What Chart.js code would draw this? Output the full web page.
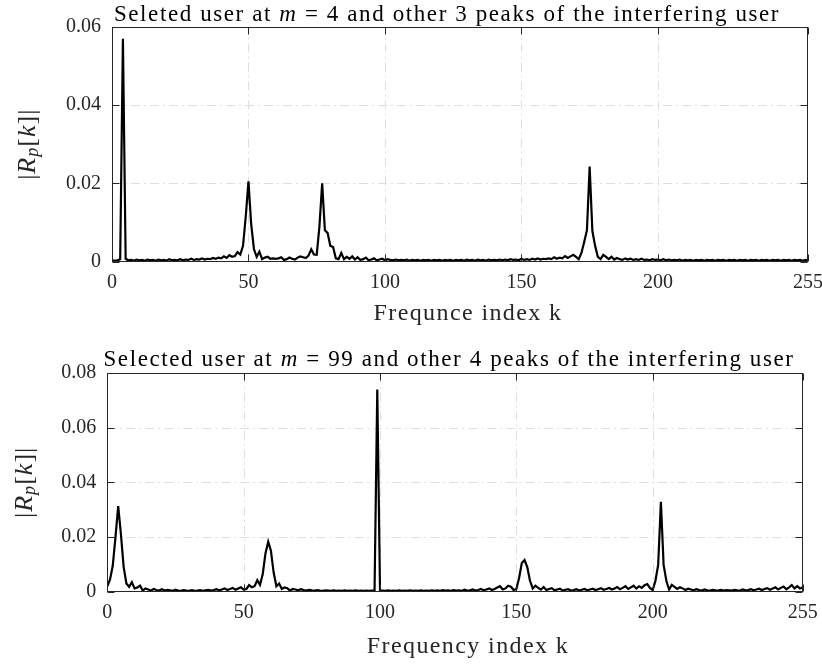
<!DOCTYPE html>
<html>
<head>
<meta charset="utf-8">
<script src="https://cdn.jsdelivr.net/npm/chart.js@4.4.1/dist/chart.umd.min.js"></script>
<style>
  html, body { margin: 0; padding: 0; background: #fff; }
  #wrap { position: relative; width: 822px; height: 666px; }
  canvas { position: absolute; left: 0; }
</style>
</head>
<body>
<div id="wrap">
  <canvas id="topChart" width="822" height="333" style="top:0;width:822px;height:333px"></canvas>
  <canvas id="bottomChart" width="822" height="333" style="top:333px;width:822px;height:333px"></canvas>
</div>
<script>
// |R_p[k]| for k = 0..255
const topVals = [
  0.0002, 0.0002, 0.0003, 0.0006, 0.0570, 0.0007, 0.0003, 0.0004, 0.0002, 0.0005, 0.0003, 0.0004, 0.0002, 0.0005, 0.0003, 0.0004,
  0.0002, 0.0005, 0.0003, 0.0004, 0.0002, 0.0006, 0.0003, 0.0004, 0.0003, 0.0006, 0.0003, 0.0005, 0.0004, 0.0007, 0.0004, 0.0006,
  0.0005, 0.0008, 0.0005, 0.0007, 0.0006, 0.0009, 0.0007, 0.0010, 0.0008, 0.0013, 0.0009, 0.0016, 0.0012, 0.0014, 0.0024, 0.0018,
  0.0040, 0.0115, 0.0205, 0.0095, 0.0032, 0.0012, 0.0025, 0.0006, 0.0010, 0.0012, 0.0007, 0.0008, 0.0007, 0.0008, 0.0011, 0.0004,
  0.0006, 0.0010, 0.0007, 0.0005, 0.0010, 0.0013, 0.0011, 0.0009, 0.0015, 0.0031, 0.0018, 0.0017, 0.0090, 0.0200, 0.0080, 0.0073,
  0.0040, 0.0037, 0.0008, 0.0006, 0.0022, 0.0006, 0.0012, 0.0007, 0.0013, 0.0005, 0.0011, 0.0004, 0.0006, 0.0010, 0.0003, 0.0005,
  0.0008, 0.0003, 0.0005, 0.0007, 0.0003, 0.0006, 0.0004, 0.0003, 0.0005, 0.0003, 0.0004, 0.0003, 0.0005, 0.0002, 0.0004, 0.0003,
  0.0004, 0.0002, 0.0004, 0.0003, 0.0004, 0.0002, 0.0004, 0.0003, 0.0004, 0.0002, 0.0004, 0.0003, 0.0004, 0.0002, 0.0004, 0.0003,
  0.0004, 0.0002, 0.0005, 0.0003, 0.0004, 0.0002, 0.0005, 0.0003, 0.0004, 0.0002, 0.0005, 0.0003, 0.0004, 0.0003, 0.0005, 0.0003,
  0.0005, 0.0003, 0.0006, 0.0004, 0.0005, 0.0003, 0.0007, 0.0004, 0.0006, 0.0004, 0.0007, 0.0005, 0.0008, 0.0005, 0.0007, 0.0006,
  0.0008, 0.0006, 0.0011, 0.0007, 0.0010, 0.0008, 0.0014, 0.0009, 0.0013, 0.0017, 0.0012, 0.0006, 0.0022, 0.0050, 0.0080, 0.0243,
  0.0078, 0.0040, 0.0012, 0.0006, 0.0017, 0.0012, 0.0006, 0.0012, 0.0005, 0.0009, 0.0006, 0.0004, 0.0008, 0.0005, 0.0007, 0.0004,
  0.0006, 0.0004, 0.0007, 0.0004, 0.0005, 0.0003, 0.0006, 0.0004, 0.0005, 0.0003, 0.0006, 0.0003, 0.0005, 0.0003, 0.0004, 0.0003,
  0.0005, 0.0002, 0.0004, 0.0003, 0.0004, 0.0002, 0.0004, 0.0003, 0.0004, 0.0002, 0.0004, 0.0003, 0.0004, 0.0002, 0.0004, 0.0003,
  0.0004, 0.0002, 0.0004, 0.0003, 0.0004, 0.0002, 0.0004, 0.0003, 0.0004, 0.0002, 0.0004, 0.0003, 0.0004, 0.0002, 0.0004, 0.0003,
  0.0004, 0.0002, 0.0004, 0.0003, 0.0004, 0.0002, 0.0004, 0.0003, 0.0004, 0.0002, 0.0004, 0.0003, 0.0004, 0.0002, 0.0004, 0.0003
];

const bottomVals = [
  0.0020, 0.0045, 0.0095, 0.0200, 0.0313, 0.0210, 0.0090, 0.0030, 0.0018, 0.0035, 0.0012, 0.0015, 0.0022, 0.0004, 0.0012, 0.0008,
  0.0004, 0.0010, 0.0006, 0.0004, 0.0009, 0.0004, 0.0007, 0.0005, 0.0003, 0.0007, 0.0004, 0.0003, 0.0006, 0.0004, 0.0003, 0.0006,
  0.0003, 0.0004, 0.0006, 0.0003, 0.0005, 0.0007, 0.0004, 0.0006, 0.0009, 0.0005, 0.0008, 0.0012, 0.0006, 0.0010, 0.0014, 0.0007,
  0.0012, 0.0016, 0.0008, 0.0010, 0.0024, 0.0016, 0.0020, 0.0042, 0.0025, 0.0065, 0.0140, 0.0183, 0.0150, 0.0070, 0.0020, 0.0030,
  0.0010, 0.0016, 0.0013, 0.0004, 0.0010, 0.0008, 0.0005, 0.0009, 0.0006, 0.0004, 0.0007, 0.0005, 0.0004, 0.0006, 0.0004, 0.0003,
  0.0005, 0.0004, 0.0003, 0.0005, 0.0003, 0.0004, 0.0003, 0.0005, 0.0003, 0.0004, 0.0003, 0.0005, 0.0003, 0.0004, 0.0003, 0.0004,
  0.0003, 0.0004, 0.0003, 0.0740, 0.0005, 0.0004, 0.0003, 0.0005, 0.0003, 0.0004, 0.0003, 0.0005, 0.0003, 0.0004, 0.0003, 0.0005,
  0.0003, 0.0004, 0.0003, 0.0005, 0.0003, 0.0004, 0.0003, 0.0005, 0.0003, 0.0005, 0.0003, 0.0006, 0.0004, 0.0005, 0.0003, 0.0006,
  0.0004, 0.0005, 0.0003, 0.0007, 0.0004, 0.0005, 0.0008, 0.0004, 0.0006, 0.0010, 0.0005, 0.0008, 0.0012, 0.0006, 0.0010, 0.0015,
  0.0020, 0.0008, 0.0012, 0.0022, 0.0018, 0.0006, 0.0010, 0.0050, 0.0105, 0.0116, 0.0090, 0.0040, 0.0012, 0.0022, 0.0014, 0.0008,
  0.0017, 0.0006, 0.0010, 0.0013, 0.0005, 0.0008, 0.0011, 0.0004, 0.0007, 0.0009, 0.0004, 0.0006, 0.0009, 0.0004, 0.0007, 0.0010,
  0.0005, 0.0008, 0.0011, 0.0006, 0.0009, 0.0013, 0.0007, 0.0010, 0.0014, 0.0008, 0.0012, 0.0017, 0.0009, 0.0014, 0.0020, 0.0010,
  0.0016, 0.0022, 0.0012, 0.0020, 0.0014, 0.0024, 0.0028, 0.0014, 0.0006, 0.0040, 0.0098, 0.0329, 0.0098, 0.0040, 0.0008, 0.0025,
  0.0018, 0.0010, 0.0016, 0.0012, 0.0006, 0.0011, 0.0008, 0.0005, 0.0009, 0.0006, 0.0004, 0.0008, 0.0005, 0.0004, 0.0007, 0.0005,
  0.0004, 0.0007, 0.0004, 0.0006, 0.0005, 0.0004, 0.0007, 0.0005, 0.0004, 0.0008, 0.0005, 0.0006, 0.0009, 0.0005, 0.0008, 0.0011,
  0.0006, 0.0010, 0.0013, 0.0007, 0.0012, 0.0016, 0.0008, 0.0014, 0.0019, 0.0009, 0.0016, 0.0024, 0.0012, 0.0020, 0.0012, 0.0016
];

const kIndex = topVals.map((_, i) => i);

const xTicks = [0, 50, 100, 150, 200, 255];
const yTicksTop = [0, 0.02, 0.04, 0.06];
const yTicksBottom = [0, 0.02, 0.04, 0.06, 0.08];

const topTitle = [['Seleted user at ', ''], ['m', 'italic '], [' = 4 and other 3 peaks of the interfering user', '']];
const bottomTitle = [['Selected user at ', ''], ['m', 'italic '], [' = 99 and other 4 peaks of the interfering user', '']];
const topXLabel = 'Frequnce index k';
const bottomXLabel = 'Frequency index k';

const SERIF = '"Liberation Serif", "DejaVu Serif", serif';
const INK = '#262626';

// draws a run of [text, style] pieces starting at x
function drawRuns(ctx, runs, x, y, size) {
  runs.forEach(([txt, style, dy = 0, scale = 1]) => {
    ctx.font = style + (size * scale) + 'px ' + SERIF;
    ctx.fillText(txt, x, y + dy);
    x += ctx.measureText(txt).width;
  });
}
function runsWidth(ctx, runs, size) {
  let w = 0;
  runs.forEach(([txt, style, dy = 0, scale = 1]) => {
    ctx.font = style + (size * scale) + 'px ' + SERIF;
    w += ctx.measureText(txt).width;
  });
  return w;
}

const framePlugin = {
  id: 'frame',
  beforeDatasetsDraw(chart) {
    const { ctx, chartArea: a, scales: { x, y } } = chart;
    ctx.save();
    ctx.strokeStyle = '#dedede';
    ctx.lineWidth = 1;
    ctx.setLineDash([9, 4, 2, 4]);
    x.ticks.forEach(t => {
      if (t.value <= x.min || t.value >= x.max) return;
      const px = Math.round(x.getPixelForValue(t.value)) + 0.5;
      ctx.beginPath(); ctx.moveTo(px, a.bottom); ctx.lineTo(px, a.top); ctx.stroke();
    });
    y.ticks.forEach(t => {
      if (t.value <= y.min || t.value >= y.max) return;
      const py = Math.round(y.getPixelForValue(t.value)) + 0.5;
      ctx.beginPath(); ctx.moveTo(a.left, py); ctx.lineTo(a.right, py); ctx.stroke();
    });
    ctx.restore();
  },
  afterDatasetsDraw(chart, args, opts) {
    const { ctx, chartArea: a, scales: { x, y } } = chart;
    ctx.save();
    ctx.strokeStyle = INK;
    ctx.lineWidth = 1;
    ctx.setLineDash([]);
    const L = Math.round(a.left) + 0.5, R = Math.round(a.right) - 0.5;
    const T = Math.round(a.top) + 0.5, B = Math.round(a.bottom) - 0.5;
    ctx.strokeRect(L, T, R - L, B - T);
    const tl = 7;
    ctx.beginPath();
    x.ticks.forEach(t => {
      const px = Math.round(x.getPixelForValue(t.value)) + 0.5;
      ctx.moveTo(px, B); ctx.lineTo(px, B - tl);
      ctx.moveTo(px, T); ctx.lineTo(px, T + tl);
    });
    y.ticks.forEach(t => {
      const py = Math.round(y.getPixelForValue(t.value)) + 0.5;
      ctx.moveTo(L, py); ctx.lineTo(L + tl, py);
      ctx.moveTo(R, py); ctx.lineTo(R - tl, py);
    });
    ctx.stroke();

    // title
    ctx.fillStyle = '#000';
    ctx.textBaseline = 'alphabetic';
    ctx.textAlign = 'left';
    ctx.letterSpacing = opts.titleSpacing + 'px';
    const tw = runsWidth(ctx, opts.title, opts.titleSize);
    drawRuns(ctx, opts.title, opts.titleX - tw / 2, opts.titleY, opts.titleSize);

    // x label
    ctx.fillStyle = INK;
    ctx.letterSpacing = opts.xLabelSpacing + 'px';
    ctx.font = opts.xLabelSize + 'px ' + SERIF;
    const xw = ctx.measureText(opts.xLabel).width;
    ctx.fillText(opts.xLabel, opts.xLabelX - xw / 2, opts.xLabelY);

    // y label |R_p[k]|
    const yRuns = [['|', ''], ['R', 'italic '], ['p', 'italic ', 5, 0.7], ['[', ''], ['k', 'italic '], [']|', '']];
    ctx.letterSpacing = '1px';
    ctx.save();
    ctx.translate(opts.yLabelX, (a.top + a.bottom) / 2);
    ctx.rotate(-Math.PI / 2);
    ctx.textBaseline = 'middle';
    const yw = runsWidth(ctx, yRuns, opts.yLabelSize);
    drawRuns(ctx, yRuns, -yw / 2, 0, opts.yLabelSize);
    ctx.restore();
    ctx.restore();
  }
};

function makeChart(id, values, yTicks, frame, box) {
  return new Chart(document.getElementById(id), {
    type: 'line',
    data: {
      datasets: [{
        data: values.map((v, i) => ({ x: kIndex[i], y: v })),
        borderColor: '#000',
        borderWidth: 2.2,
        pointRadius: 0,
        tension: 0,
        fill: false
      }]
    },
    options: {
      responsive: false,
      animation: false,
      events: [],
      layout: { padding: { top: box.top, right: box.right, left: 0, bottom: 0 } },
      plugins: { legend: { display: false }, tooltip: { enabled: false }, frame },
      scales: {
        x: {
          type: 'linear',
          min: 0, max: 255,
          afterBuildTicks: s => { s.ticks = xTicks.map(v => ({ value: v })); },
          afterFit: s => { s.height = box.xHeight; s.paddingLeft = 0; s.paddingRight = 0; },
          grid: { display: false, drawTicks: false },
          border: { display: false },
          ticks: { color: INK, font: { family: SERIF, size: 20 }, padding: 9, maxRotation: 0, autoSkip: false,
                   callback: v => String(v) }
        },
        y: {
          min: 0, max: yTicks[yTicks.length - 1],
          afterBuildTicks: s => { s.ticks = yTicks.map(v => ({ value: v })); },
          afterFit: s => { s.width = box.left; s.paddingTop = 0; s.paddingBottom = 0; },
          grid: { display: false, drawTicks: false },
          border: { display: false },
          ticks: { color: INK, font: { family: SERIF, size: 20 }, padding: 11,
                   callback: v => v === 0 ? '0' : v.toFixed(2) }
        }
      }
    },
    plugins: [framePlugin]
  });
}

makeChart('topChart', topVals, yTicksTop, {
  title: topTitle, titleSize: 23, titleSpacing: 1.6, titleX: 447, titleY: 21,
  xLabel: topXLabel, xLabelSize: 24, xLabelSpacing: 1.4, xLabelX: 468, xLabelY: 320,
  yLabelX: 28, yLabelSize: 26
}, { top: 27, right: 14, left: 112, xHeight: 71.5 });

makeChart('bottomChart', bottomVals, yTicksBottom, {
  title: bottomTitle, titleSize: 23, titleSpacing: 1.6, titleX: 449, titleY: 33,
  xLabel: bottomXLabel, xLabelSize: 24, xLabelSpacing: 1.4, xLabelX: 468, xLabelY: 320,
  yLabelX: 25, yLabelSize: 26
}, { top: 40, right: 19.3, left: 107.3, xHeight: 74.3 });
</script>
</body>
</html>
